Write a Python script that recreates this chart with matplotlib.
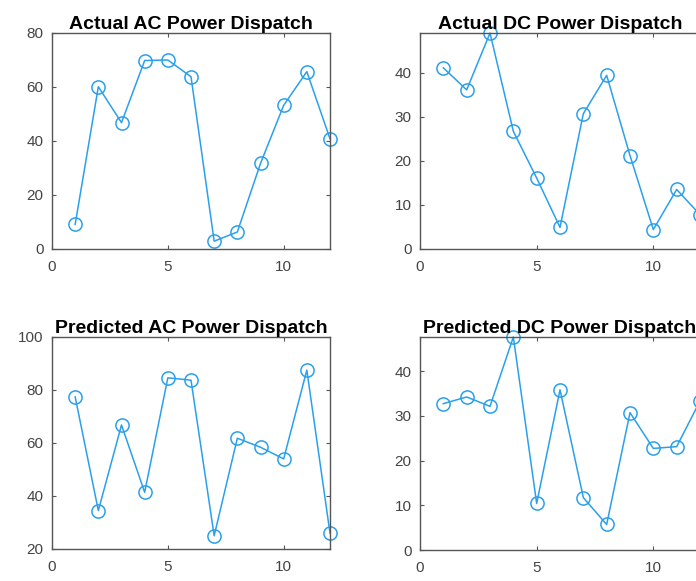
import matplotlib
matplotlib.use('Agg')
from matplotlib import pyplot as plt
import numpy as np

plt.rcParams['font.family'] = ['Liberation Sans', 'DejaVu Sans']

hours = np.arange(1, 13)
ac_actual = [9.1, 60.1, 46.8, 69.8, 70.0, 63.8, 2.9, 6.3, 31.7, 53.2, 65.7, 40.8]
dc_actual = [41.1, 36.1, 49.0, 26.7, 16.1, 4.9, 30.7, 39.4, 21.2, 4.4, 13.5, 7.8]
ac_pred = [77.4, 34.5, 66.8, 41.4, 84.6, 83.7, 25.0, 61.8, 58.4, 54.0, 87.5, 26.0]
dc_pred = [32.7, 34.2, 32.1, 47.6, 10.4, 35.8, 11.7, 5.7, 30.7, 22.7, 23.1, 33.3]

W, H = 696, 581
fig = plt.figure(figsize=(W / 100, H / 100), dpi=100)


def px_axes(left, top, right, bottom):
    return fig.add_axes([left / W, 1 - bottom / H, (right - left) / W, (bottom - top) / H])


line_color = '#2aa0ec'
edge = '#555555'

panels = [
    ((52, 33, 330, 249), ac_actual, 'Actual AC Power Dispatch', (0, 80), [0, 20, 40, 60, 80]),
    ((420, 33, 700, 249), dc_actual, 'Actual DC Power Dispatch', (0, max(dc_actual)), [0, 10, 20, 30, 40]),
    ((52, 337, 330, 549), ac_pred, 'Predicted AC Power Dispatch', (20, 100), [20, 40, 60, 80, 100]),
    ((420, 337, 700, 550), dc_pred, 'Predicted DC Power Dispatch', (0, max(dc_pred)), [0, 10, 20, 30, 40]),
]

for box, vals, title, ylim, yticks in panels:
    ax = px_axes(*box)
    ax.plot(hours, vals, '-o', color=line_color, lw=1.1, markersize=9.5,
            markerfacecolor='none', markeredgewidth=1.1, clip_on=False)
    ax.set_xlim(0, 12)
    ax.set_ylim(*ylim)
    ax.set_xticks([0, 5, 10])
    ax.set_yticks(yticks)
    ax.tick_params(direction='in', top=True, right=True, length=3, width=0.8,
                   colors=edge, labelsize=11, labelcolor='#444444')
    ax.tick_params(axis='x', pad=8)
    ax.tick_params(axis='y', pad=6)
    for s in ax.spines.values():
        s.set_color(edge)
        s.set_linewidth(1.0)
    ax.set_title(title, fontsize=14, fontweight='bold', color='black', pad=3)

fig.savefig('out.png', dpi=100)
